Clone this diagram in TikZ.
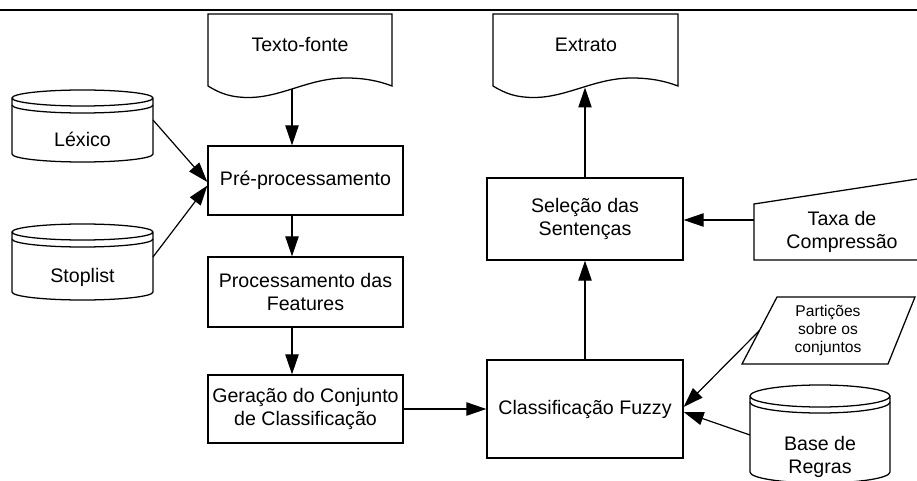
\documentclass[tikz,border=0pt]{standalone}
\usepackage{fontspec}
\setmainfont{Liberation Sans}
\usetikzlibrary{arrows.meta,calc}

\newcommand\txtmain{\fontsize{14.7pt}{17.25pt}\selectfont}
\newcommand\txtsmall{\fontsize{11.7pt}{13.5pt}\selectfont}

% database cylinder: #1 centre x, #2 half width, #3 top, #4 bottom, #5 ellipse radius, #6 gap of the inner rim
\newcommand\dbshape[6]{%
  \draw[outline] ({#1-#2},{#3+#5}) -- ({#1-#2},{#4-#5})
    arc[start angle=180,end angle=0,x radius=#2,y radius=#5]
    -- ({#1+#2},{#3+#5})
    arc[start angle=0,end angle=-180,x radius=#2,y radius=#5]
    arc[start angle=180,end angle=0,x radius=#2,y radius=#5];
  \draw[outline] ({#1-#2},{#3+#5+#6})
    arc[start angle=180,end angle=0,x radius=#2,y radius=#5];
}

\begin{document}
\begin{tikzpicture}[x=0.75pt,y=-0.75pt,
  outline/.style={draw=black,line width=0.95pt},
  procbox/.style={outline,rectangle,align=center,inner sep=0pt,font=\txtmain},
  label/.style={align=center,inner sep=0pt,font=\txtmain},
  smalllabel/.style={align=center,inner sep=0pt,font=\txtsmall},
  flow/.style={draw=black,line width=0.9pt,-{Triangle[length=15pt,width=10pt]}}]

\useasboundingbox (0,0) rectangle (917,481);

% header rule
\draw[line width=2.2pt] (0,10) -- (917,10);

% source document
\draw[outline] (208,86) .. controls (220.9,94) and (231.9,97.5) .. (248.5,97.5)
  .. controls (281.6,97.5) and (309.2,78) .. (346,78)
  .. controls (364.4,78) and (379.1,81) .. (392,86)
  -- (392,14) -- (208,14) -- cycle;
\node[label] (src) at (300,45) {Texto-fonte};
\coordinate (src-wave) at (292,89);

% summary document
\draw[outline] (493,86) .. controls (506,94) and (517,97.5) .. (533.7,97.5)
  .. controls (567,97.5) and (594.75,78) .. (631.75,78)
  .. controls (650.25,78) and (665,81) .. (678,86)
  -- (678,14) -- (493,14) -- cycle;
\node[label] (ext) at (586,45) {Extrato};
\coordinate (ext-wave) at (585,87.5);

% process boxes
\node[procbox,minimum width=146.25pt,minimum height=51.75pt] (pre) at (305.5,180.5) {Pré-processamento};
\node[procbox,minimum width=146.25pt,minimum height=52.5pt] (feat) at (305.5,292) {Processamento das\\Features};
\node[procbox,minimum width=146.25pt,minimum height=51pt] (ger) at (305.5,409) {Geração do Conjunto\\de Classificação};
\node[procbox,minimum width=147pt,minimum height=73.5pt] (cls) at (585,409) {Classificação Fuzzy};
\node[procbox,minimum width=147pt,minimum height=61.5pt] (sel) at (585,219) {Seleção das\\Sentenças};

% lexical resources
\dbshape{82.5}{70.5}{90}{162}{8}{7}
\node[label] (lex) at (82.5,139) {Léxico};
\coordinate (lex-out) at (153,120);
\dbshape{82.5}{70.5}{224}{300}{8}{7}
\node[label] (stop) at (82.5,277) {Stoplist};
\coordinate (stop-out) at (153,257);

% fuzzy partitions
\draw[outline] (777,297) -- (915,297) -- (888,364) -- (742,364) -- cycle;
\node[smalllabel] (part) at (828,330) {Partições\\sobre os\\conjuntos};
\coordinate (part-in) at (759.5,330.5);

% shapes running past the right and bottom edges
\begin{scope}
  \clip (0,0) rectangle (917,481);
  \draw[outline] (754,204) -- (940,175.5) -- (940,260) -- (754,260) -- cycle;
  \dbshape{820}{70}{385}{483}{11}{6}
\end{scope}
\node[label] (taxa) at (842,232) {Taxa de\\Compressão};
\coordinate (taxa-in) at (754,220);
\node[label] (base) at (820,456.5) {Base de\\Regras};
\coordinate (base-in) at (750,435);

% connectors
\draw[flow] (src-wave) -- (pre.north -| src-wave);
\draw[flow] (pre.south -| src-wave) -- (feat.north -| src-wave);
\draw[flow] (feat.south -| src-wave) -- (ger.north -| src-wave);
\draw[flow] (lex-out) -- ($(pre.west)+(0,1.5)$);
\draw[flow] (stop-out) -- ($(pre.west)+(0,5)$);
\draw[flow] (ger.east) -- (cls.west);
\draw[flow] (cls.north) -- (sel.south);
\draw[flow] (sel.north) -- (ext-wave);
\draw[flow] (taxa-in) -- (sel.east |- taxa-in);
\draw[flow] (part-in) -- ($(cls.east)+(0,-2)$);
\draw[flow] (base-in) -- ($(cls.east)+(0,3)$);

\end{tikzpicture}
\end{document}
